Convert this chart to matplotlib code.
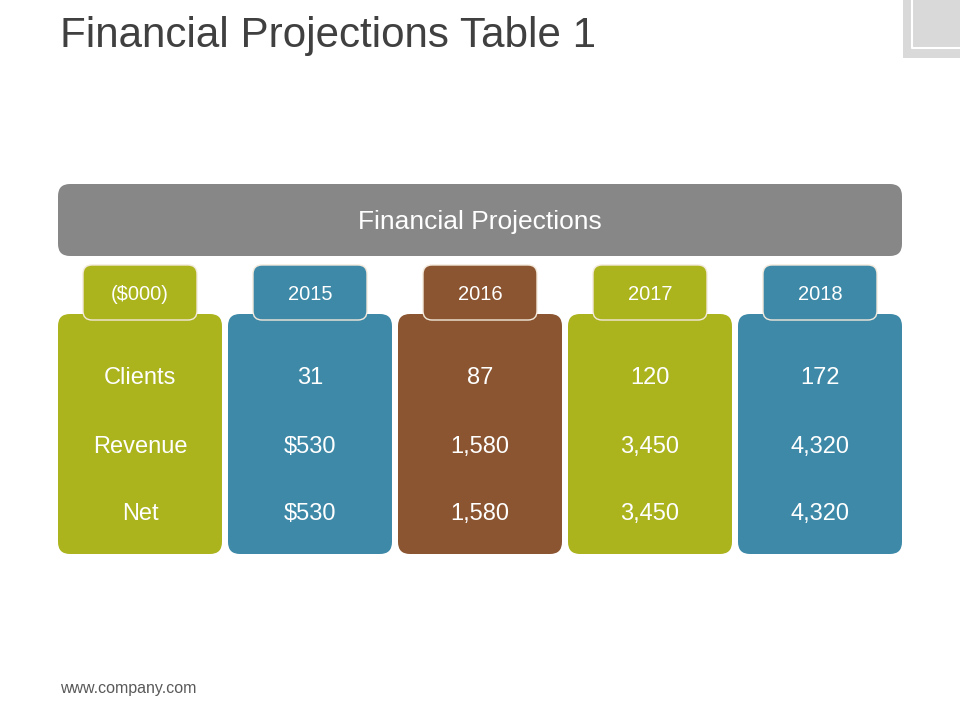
import matplotlib.pyplot as plt
from matplotlib.patches import FancyBboxPatch, Rectangle

header = 'Financial Projections'
tab_labels = ['($000)', '2015', '2016', '2017', '2018']
row_names = ['Clients', 'Revenue', 'Net']
col_2015 = ['31', '$530', '$530']
col_2016 = ['87', '1,580', '1,580']
col_2017 = ['120', '3,450', '3,450']
col_2018 = ['172', '4,320', '4,320']
columns = [row_names, col_2015, col_2016, col_2017, col_2018]

olive = '#abb41d'
blue = '#3d89a7'
brown = '#8a5530'
colors = [olive, blue, brown, olive, blue]

fig = plt.figure(figsize=(9.6, 7.2), dpi=100)
ax = fig.add_axes([0, 0, 1, 1])
ax.set_xlim(0, 960)
ax.set_ylim(720, 0)
ax.axis('off')

def rbox(x, y, w, h, r, fc, ec='none', lw=0, z=1):
    p = FancyBboxPatch((x + r, y + r), w - 2 * r, h - 2 * r,
                       boxstyle=f'round,pad={r}', fc=fc, ec=ec, lw=lw, zorder=z)
    ax.add_patch(p)

# corner decoration
ax.add_patch(Rectangle((903, 0), 57, 58, fc='#d9d9d9', ec='none'))
ax.plot([912, 912, 960], [0, 48, 48], color='white', lw=1.5)

ax.text(60, 36, 'Financial Projections Table 1', fontsize=30.3, color='#404040',
        va='center', ha='left', family='Liberation Sans')

rbox(58, 184, 844, 72, 12, '#878787')
ax.text(480, 222, header, fontsize=19, color='white', ha='center', va='center',
        family='Liberation Sans')

row_y = [378, 447, 514]
for i, (col, c) in enumerate(zip(columns, colors)):
    x0 = 58 + i * 170
    rbox(x0, 314, 164, 240, 12, c, z=1)
    rbox(x0 + 25, 265, 114, 55, 9, c, ec='#f3e9dc', lw=1, z=2)
    ax.text(x0 + 82, 295, tab_labels[i], fontsize=14.5, color='white',
            ha='center', va='center', family='Liberation Sans', zorder=3)
    for y, v in zip(row_y, col):
        ax.text(x0 + 82, y, v, fontsize=17, color='white', ha='center',
                va='center', family='Liberation Sans', zorder=3)

ax.text(60, 688, 'www.company.com', fontsize=11.5, color='#595959',
        ha='left', va='center', family='Liberation Sans')

fig.savefig('out.png', dpi=100)
